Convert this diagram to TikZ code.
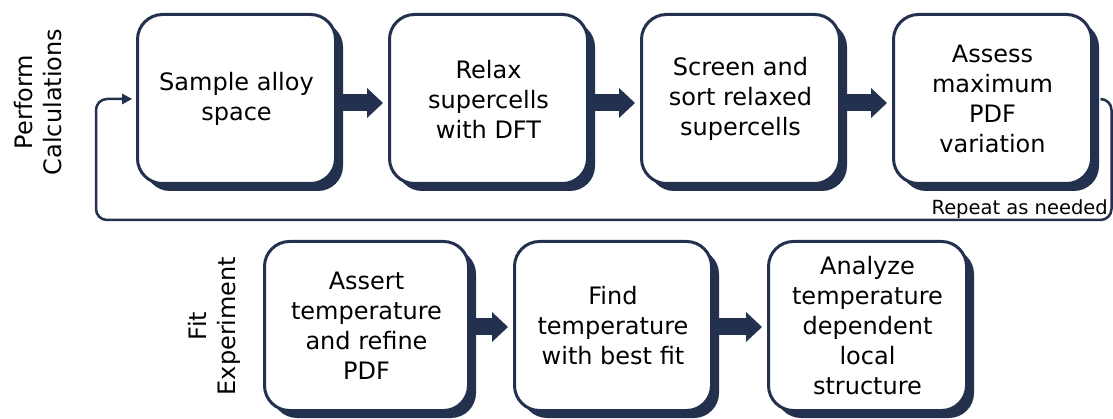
\documentclass[tikz,border=0pt]{standalone}
\usepackage{fontspec}
\setmainfont{DejaVu Sans}
\usetikzlibrary{arrows.meta,shadows}
\definecolor{navy}{HTML}{23314E}
\begin{document}
\begin{tikzpicture}[x=1pt,y=-1pt,
  box/.style={draw=navy, line width=3pt, fill=white, rounded corners=25pt,
    align=center, font=\fontsize{24}{30}\selectfont, minimum height=169pt,
    inner sep=0pt,
    drop shadow={shadow xshift=7.5pt, shadow yshift=-7.5pt, fill=navy, opacity=1}},
  blockarrow/.style={draw=navy, line width=17pt,
    -{Triangle[length=16pt,width=30pt,line width=0pt]}, shorten >=5pt},
  looparrow/.style={draw=navy, line width=2.5pt, rounded corners=11pt,
    -{Triangle[length=10pt,width=11pt,line width=0pt]}, shorten >=4pt},
  sidelabel/.style={rotate=90, align=center, font=\fontsize{24}{29}\selectfont, inner sep=0pt}]
\useasboundingbox (0,0) rectangle (1113,419);

\node[box, minimum width=198pt] (b1) at (236.5,99) {Sample alloy\\space};
\node[box, minimum width=198pt] (b2) at (488.5,99) {Relax\\supercells\\with DFT};
\node[box, minimum width=198pt] (b3) at (740.5,99) {Screen and\\sort relaxed\\supercells};
\node[box, minimum width=198pt] (b4) at (992.5,99) {Assess\\maximum\\PDF\\variation};

\node[box, minimum width=204pt] (b5) at (366.5,326) {Assert\\temperature\\and refine\\PDF};
\node[box, minimum width=197pt] (b6) at (613,326) {Find\\temperature\\with best fit};
\node[box, minimum width=198pt] (b7) at (867.5,326) {Analyze\\temperature\\dependent\\local\\structure};

\draw[blockarrow] ([yshift=-4pt]b1.east) -- ([yshift=-4pt]b2.west);
\draw[blockarrow] ([yshift=-4pt]b2.east) -- ([yshift=-4pt]b3.west);
\draw[blockarrow] ([yshift=-4pt]b3.east) -- ([yshift=-4pt]b4.west);
\draw[blockarrow] ([yshift=-1pt]b5.east) -- ([yshift=-1pt]b6.west);
\draw[blockarrow] ([yshift=-1pt]b6.east) -- ([yshift=-1pt]b7.west);

\draw[looparrow] ([xshift=7.5pt]b4.east) -| (1111.5,220) -| (96,99) -- (b1.west);
\node[anchor=base east, font=\fontsize{19.5}{22}\selectfont, inner sep=0pt] (rep) at (1108,215) {Repeat as needed};

\node[sidelabel] (lab1) at (38,102) {Perform\\Calculations};
\node[sidelabel] (lab2) at (214,326) {Fit\\Experiment};
\end{tikzpicture}
\end{document}
